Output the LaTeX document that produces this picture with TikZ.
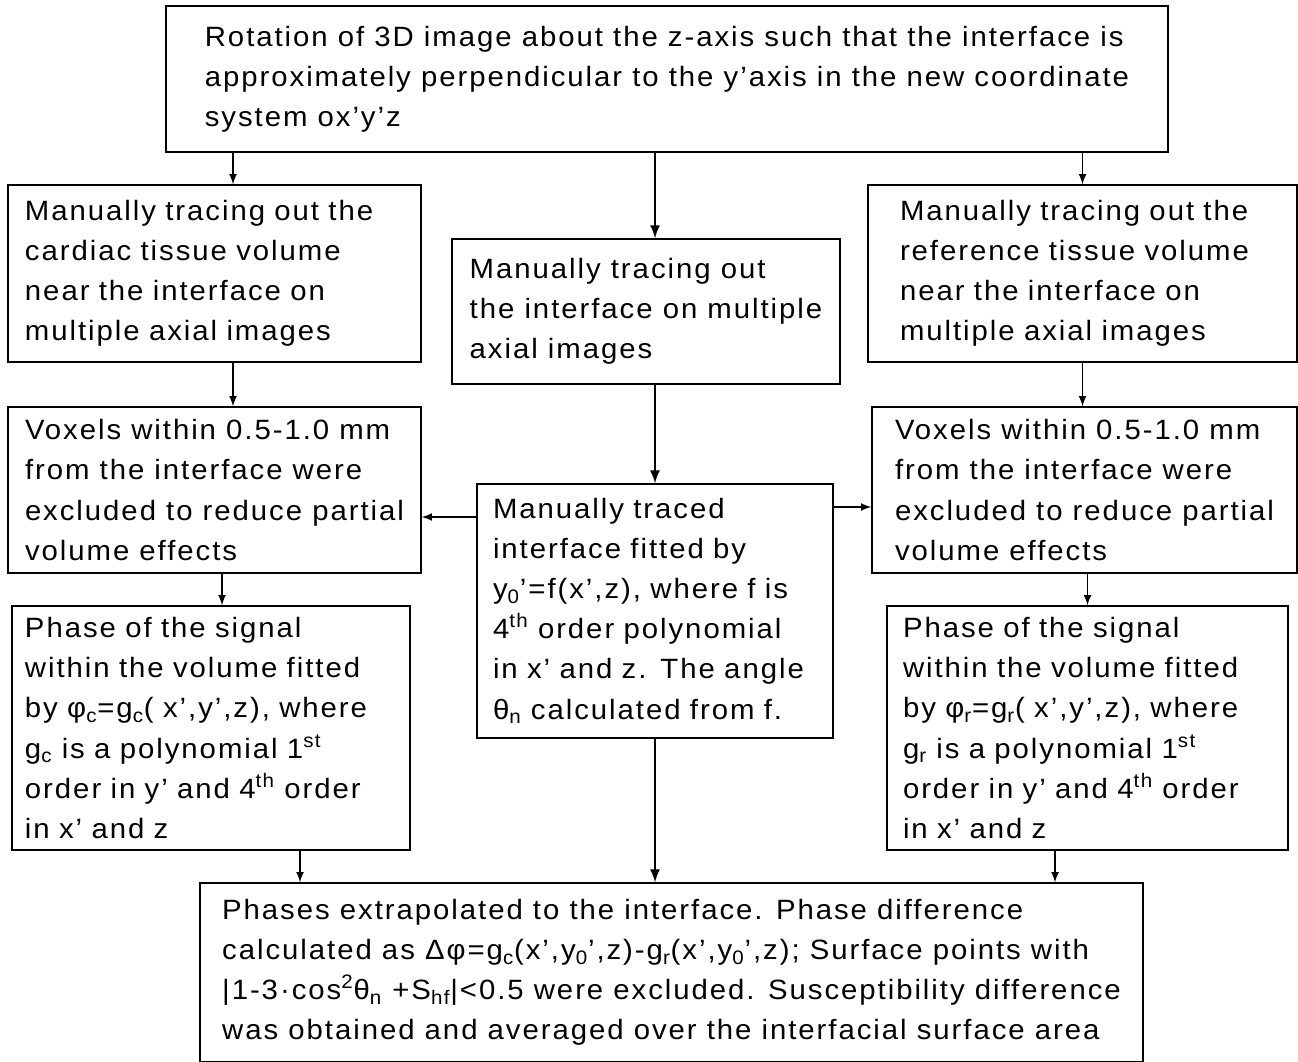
\documentclass[tikz,border=0pt]{standalone}
\usepackage{fontspec}
\setmainfont[LetterSpace=7,FakeStretch=1.05]{Liberation Sans}
\usepackage{tikz}
\tikzset{
    box/.style={draw=black, line width=0.8pt, align=left, inner ysep=2pt,
        font=\fontsize{15.9pt}{22.8pt}\selectfont},
    >=latex}

\begin{document}
\begin{tikzpicture}

            \useasboundingbox (0,0) rectangle (25.96,-21.22);

            \node[box, minimum width=20.04cm, minimum height=2.92cm] (T) at (13.34,-1.58) {Rotation of 3D image about the z-axis such that the interface is\\approximately perpendicular to the y’axis in the new coordinate\\system ox’y’z};

            \node[box, inner xsep=0.34cm, text width=7.58cm, minimum height=3.54cm] (L1) at (4.29,-5.47) {Manually tracing out the\\cardiac tissue volume\\near the interface on\\multiple axial images};
            \node[box, minimum width=7.76cm, minimum height=2.90cm] (M1) at (12.92,-6.23) {Manually tracing out\\the interface on multiple\\axial images};
            \node[box, inner xsep=0.64cm, text width=7.30cm, minimum height=3.54cm] (R1) at (21.65,-5.47) {Manually tracing out the\\reference tissue volume\\near the interface on\\multiple axial images};

            \node[box, minimum width=8.26cm, minimum height=3.32cm] (L2) at (4.29,-9.80) {Voxels within 0.5-1.0 mm\\from the interface were\\excluded to reduce partial\\volume effects};
            \node[box, inner xsep=0.32cm, text width=6.48cm, minimum height=5.08cm] (M2) at (13.10,-12.22) {Manually traced\\interface fitted by\\y\textsubscript{0}’=f(x’,z), where f is\\4\textsuperscript{th} order polynomial\\in x’ and z. The angle\\θ\textsubscript{n} calculated from f.};
            \node[box, minimum width=8.50cm, minimum height=3.32cm] (R2) at (21.69,-9.80) {Voxels within 0.5-1.0 mm\\from the interface were\\excluded to reduce partial\\volume effects};

            \node[box, inner xsep=0.26cm, text width=7.44cm, minimum height=4.88cm] (L3) at (4.22,-14.56) {Phase of the signal\\within the volume fitted\\by φ\textsubscript{c}=g\textsubscript{c}( x’,y’,z), where\\g\textsubscript{c} is a polynomial 1\textsuperscript{st}\\order in y’ and 4\textsuperscript{th} order\\in x’ and z};
            \node[box, inner xsep=0.32cm, text width=7.38cm, minimum height=4.88cm] (R3) at (21.75,-14.56) {Phase of the signal\\within the volume fitted\\by φ\textsubscript{r}=g\textsubscript{r}( x’,y’,z), where\\g\textsubscript{r} is a polynomial 1\textsuperscript{st}\\order in y’ and 4\textsuperscript{th} order\\in x’ and z};

            \node[box, minimum width=18.86cm, minimum height=3.58cm] (B) at (13.43,-19.45) {Phases extrapolated to the interface. Phase difference\\calculated as Δφ=g\textsubscript{c}(x’,y\textsubscript{0}’,z)-g\textsubscript{r}(x’,y\textsubscript{0}’,z); Surface points with\\|1-3·cos\textsuperscript{2}θ\textsubscript{n} +S\textsubscript{hf}|<0.5 were excluded. Susceptibility difference\\was obtained and averaged over the interfacial surface area};

            % from the rotation step
            \draw[->, line width=1pt] ([xshift=0.37cm]L1.north |- T.south) -- ([xshift=0.37cm]L1.north);
            \draw[->, line width=1.5pt] (T.south -| M2.north) -- (M1.north -| M2.north);
            \draw[->, line width=1pt] (R1.north |- T.south) -- (R1.north);

            \draw[->, line width=1pt] ([xshift=0.37cm]L1.south) -- ([xshift=0.37cm]L1.south |- L2.north);
            \draw[->, line width=1.5pt] (M1.south -| M2.north) -- (M2.north);
            \draw[->, line width=1pt] (R1.south) -- (R1.south |- R2.north);

            % fitted interface to both sides
            \draw[->, line width=1pt] ([yshift=1.88cm]M2.west) -- ([yshift=1.88cm]M2.west -| L2.east);
            \draw[->, line width=1pt] ([yshift=2.08cm]M2.east) -- ([yshift=2.08cm]M2.east -| R2.west);

            \draw[->, line width=1pt] ([xshift=0.22cm]L3.north |- L2.south) -- ([xshift=0.22cm]L3.north);
            \draw[->, line width=1pt] (R3.north |- R2.south) -- (R3.north);

            % into the last step
            \draw[->, line width=1pt] ([xshift=1.78cm]L3.south) -- ([xshift=1.78cm]L3.south |- B.north);
            \draw[->, line width=1.5pt] (M2.south) -- (B.north -| M2.south);
            \draw[->, line width=1pt] ([xshift=-0.65cm]R3.south) -- ([xshift=-0.65cm]R3.south |- B.north);

        \end{tikzpicture}
\end{document}
